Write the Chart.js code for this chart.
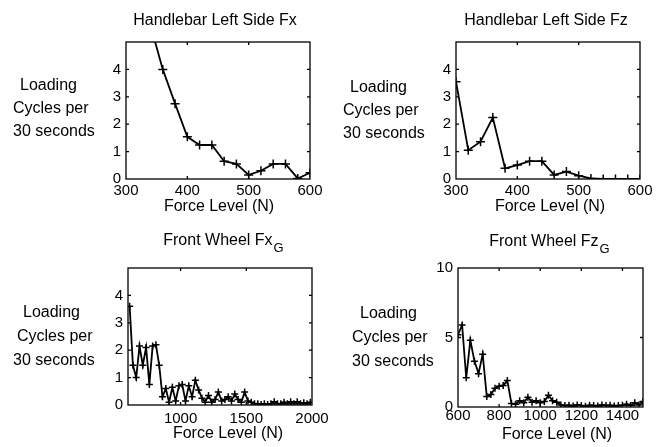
<!DOCTYPE html>
<html>
<head>
<meta charset="utf-8">
<script src="https://cdn.jsdelivr.net/npm/chart.js@4.4.1/dist/chart.umd.min.js"></script>
<style>
  html, body { margin: 0; padding: 0; background: #fff; }
  #wrap { position: relative; width: 659px; height: 447px; }
  #wrap canvas { position: absolute; left: 0; top: 0; }
</style>
</head>
<body>
<div id="wrap">
  <canvas id="c1" width="659" height="447"></canvas>
  <canvas id="c2" width="659" height="447"></canvas>
  <canvas id="c3" width="659" height="447"></canvas>
  <canvas id="c4" width="659" height="447"></canvas>
</div>
<script>
// Handlebar Left Side Fx
const force1 = [340, 360, 380, 400, 420, 440, 460, 480, 500, 520, 540, 560, 580, 600];
const cycles1 = [5.6, 4.0, 2.75, 1.54, 1.24, 1.24, 0.65, 0.55, 0.15, 0.3, 0.55, 0.55, 0.02, 0.23];

// Handlebar Left Side Fz
const force2 = [300, 320, 340, 360, 380, 400, 420, 440, 460, 480, 500, 520, 540, 560, 580, 600];
const cycles2 = [3.55, 1.05, 1.36, 2.24, 0.39, 0.51, 0.65, 0.65, 0.15, 0.27, 0.12, 0.02, 0, 0, 0, 0];

// Front Wheel FxG
const force3 = [612.5, 637.5, 662.5, 687.5, 712.5, 737.5, 762.5, 787.5, 812.5, 837.5,
  862.5, 887.5, 912.5, 937.5, 962.5, 987.5, 1012.5, 1037.5, 1062.5, 1087.5,
  1112.5, 1137.5, 1162.5, 1187.5, 1212.5, 1237.5, 1262.5, 1287.5, 1312.5, 1337.5,
  1362.5, 1387.5, 1412.5, 1437.5, 1462.5, 1487.5, 1512.5, 1537.5, 1562.5, 1587.5,
  1612.5, 1637.5, 1662.5, 1687.5, 1712.5, 1737.5, 1762.5, 1787.5, 1812.5, 1837.5,
  1862.5, 1887.5, 1912.5, 1937.5, 1962.5, 1987.5];
const cycles3 = [3.6, 1.45, 1.0, 2.15, 1.45, 2.1, 0.75, 2.15, 2.2, 1.45,
  0.3, 0.6, 0.1, 0.65, 0.15, 0.7, 0.75, 0.15, 0.7, 0.3,
  0.9, 0.55, 0.25, 0.1, 0.35, 0.1, 0.2, 0.47, 0.15, 0.2,
  0.3, 0.15, 0.4, 0.2, 0.1, 0.47, 0.15, 0.1, 0.05, 0.05,
  0.02, 0.05, 0.02, 0.05, 0.12, 0.05, 0.05, 0.1, 0.05, 0.12,
  0.05, 0.12, 0.05, 0.08, 0.05, 0.1];

// Front Wheel FzG
const force4 = [600, 620, 640, 660, 680, 700, 720, 740, 760, 780,
  800, 820, 840, 860, 880, 900, 920, 940, 960, 980,
  1000, 1020, 1040, 1060, 1080, 1100, 1120, 1140, 1160, 1180,
  1200, 1220, 1240, 1260, 1280, 1300, 1320, 1340, 1360, 1380,
  1400, 1420, 1440, 1460, 1480, 1500];
const cycles4 = [5.2, 5.9, 2.1, 4.8, 3.3, 2.4, 3.8, 0.75, 0.9, 1.35,
  1.5, 1.55, 1.9, 0.25, 0.2, 0.45, 0.3, 0.7, 0.35, 0.45,
  0.3, 0.4, 0.85, 0.45, 0.35, 0.15, 0.1, 0.12, 0.08, 0.15,
  0.1, 0.05, 0.12, 0.1, 0.08, 0.15, 0.1, 0.12, 0.08, 0.1,
  0.12, 0.2, 0.1, 0.3, 0.15, 0.4];

const xTicks12 = [300, 400, 500, 600];
const xTicks3 = [1000, 1500, 2000];
const xTicks4 = [600, 800, 1000, 1200, 1400];
const yTicks123 = [0, 1, 2, 3, 4];
const yTicks4 = [0, 5, 10];

const FONT = '"Liberation Sans", Arial, Helvetica, sans-serif';
const INK = '#000';

// titles, y label lines, x label
const panelText = {
  id: 'panelText',
  afterDraw(chart, args, o) {
    const ctx = chart.ctx;
    ctx.save();
    ctx.fillStyle = INK;
    ctx.textBaseline = 'alphabetic';
    ctx.textAlign = 'left';
    ctx.font = '16px ' + FONT;
    const w = ctx.measureText(o.title).width;
    let sw = 0;
    if (o.sub) {
      ctx.font = '13px ' + FONT;
      sw = ctx.measureText(o.sub).width;
    }
    const x0 = o.titleX - (w + sw) / 2;
    ctx.font = '16px ' + FONT;
    ctx.fillText(o.title, x0, o.titleY);
    if (o.sub) {
      ctx.font = '13px ' + FONT;
      ctx.fillText(o.sub, x0 + w + 1, o.titleY + 7);
    }
    ctx.font = '16px ' + FONT;
    o.yLines.forEach(l => ctx.fillText(l[0], l[1], l[2]));
    ctx.textAlign = 'center';
    ctx.fillText('Force Level (N)', o.xTitleX, o.xTitleY);
    ctx.restore();
  }
};

// box with inward ticks, matlab style
const boxTicks = {
  id: 'boxTicks',
  afterDatasetsDraw(chart) {
    const ctx = chart.ctx;
    const a = chart.chartArea;
    const xs = chart.scales.x, ys = chart.scales.y;
    ctx.save();
    ctx.strokeStyle = INK;
    ctx.lineWidth = 1.3;
    ctx.strokeRect(a.left, a.top, a.right - a.left, a.bottom - a.top);
    ctx.beginPath();
    xs.ticks.forEach(t => {
      const p = xs.getPixelForValue(t.value);
      if (p <= a.left + 1 || p >= a.right - 1) return;
      ctx.moveTo(p, a.bottom); ctx.lineTo(p, a.bottom - 3);
      ctx.moveTo(p, a.top); ctx.lineTo(p, a.top + 3);
    });
    ys.ticks.forEach(t => {
      const p = ys.getPixelForValue(t.value);
      if (p <= a.top + 1 || p >= a.bottom - 1) return;
      ctx.moveTo(a.left, p); ctx.lineTo(a.left + 3, p);
      ctx.moveTo(a.right, p); ctx.lineTo(a.right - 3, p);
    });
    ctx.stroke();
    ctx.restore();
  }
};

function makePanel(id, force, cycles, p) {
  const Y_W = 30, X_H = 30;
  return new Chart(document.getElementById(id), {
    type: 'line',
    data: {
      datasets: [{
        data: force.map((f, i) => ({ x: f, y: cycles[i] })),
        borderColor: INK,
        borderWidth: 1.8,
        pointStyle: 'cross',
        pointRadius: p.mark,
        pointBorderWidth: 1.5,
        pointBorderColor: INK,
        tension: 0,
        clip: 0
      }]
    },
    plugins: [boxTicks, panelText],
    options: {
      responsive: false,
      animation: false,
      events: [],
      layout: {
        autoPadding: false,
        padding: { left: p.L - Y_W, right: 659 - p.R, top: p.T, bottom: 447 - p.B - X_H }
      },
      plugins: {
        legend: { display: false },
        tooltip: { enabled: false },
        panelText: p.text
      },
      scales: {
        x: {
          type: 'linear',
          min: p.xmin, max: p.xmax,
          afterBuildTicks: s => { s.ticks = p.xTicks.map(v => ({ value: v })); },
          afterFit: s => { s.height = X_H; },
          grid: { display: false, drawTicks: false },
          border: { display: false },
          ticks: { color: INK, font: { family: FONT, size: 15 }, padding: p.xPad, maxRotation: 0,
            callback: v => String(v) }
        },
        y: {
          min: 0, max: p.ymax,
          afterBuildTicks: s => { s.ticks = p.yTicks.map(v => ({ value: v })); },
          afterFit: s => { s.width = Y_W; },
          grid: { display: false, drawTicks: false },
          border: { display: false },
          ticks: { color: INK, font: { family: FONT, size: 15 }, padding: 5,
            callback: v => String(v) }
        }
      }
    }
  });
}

makePanel('c1', force1, cycles1, {
  L: 126, R: 310, T: 42, B: 179, xmin: 300, xmax: 600, ymax: 5,
  xTicks: xTicks12, yTicks: yTicks123, xPad: 3, mark: 4.5,
  text: {
    title: 'Handlebar Left Side Fx', titleX: 215, titleY: 25,
    yLines: [['Loading', 20, 90], ['Cycles per', 13, 113], ['30 seconds', 13, 136]],
    xTitleX: 219, xTitleY: 211
  }
});

makePanel('c2', force2, cycles2, {
  L: 456, R: 640, T: 42, B: 179, xmin: 300, xmax: 600, ymax: 5,
  xTicks: xTicks12, yTicks: yTicks123, xPad: 3, mark: 4.5,
  text: {
    title: 'Handlebar Left Side Fz', titleX: 546, titleY: 25,
    yLines: [['Loading', 350, 92], ['Cycles per', 343, 115], ['30 seconds', 343, 138]],
    xTitleX: 550, xTitleY: 211
  }
});

makePanel('c3', force3, cycles3, {
  L: 128, R: 312, T: 268, B: 405, xmin: 600, xmax: 2000, ymax: 5,
  xTicks: xTicks3, yTicks: yTicks123, xPad: 5, mark: 3.5,
  text: {
    title: 'Front Wheel Fx', sub: 'G', titleX: 223, titleY: 245,
    yLines: [['Loading', 23, 317], ['Cycles per', 17, 341], ['30 seconds', 13, 365]],
    xTitleX: 228, xTitleY: 438
  }
});

makePanel('c4', force4, cycles4, {
  L: 458, R: 643, T: 268, B: 407, xmin: 600, xmax: 1500, ymax: 10,
  xTicks: xTicks4, yTicks: yTicks4, xPad: 0, mark: 3.5,
  text: {
    title: 'Front Wheel Fz', sub: 'G', titleX: 549, titleY: 246,
    yLines: [['Loading', 360, 318], ['Cycles per', 352, 342], ['30 seconds', 352, 366]],
    xTitleX: 557, xTitleY: 439
  }
});
</script>
</body>
</html>
